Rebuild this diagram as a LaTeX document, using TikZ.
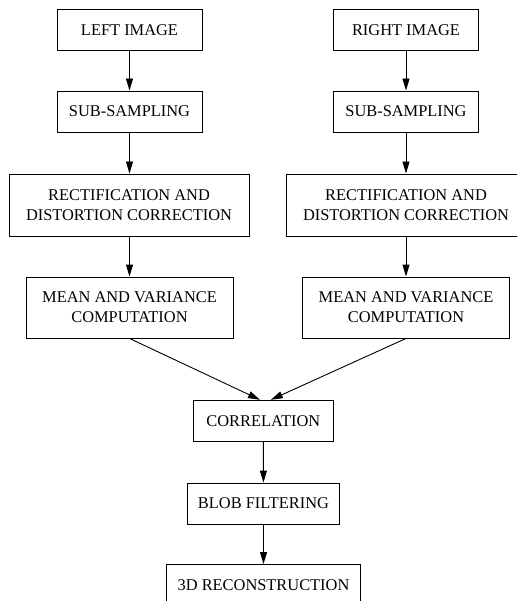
\documentclass[tikz,border=0pt]{standalone}
\usepackage{fontspec}
\setmainfont{Liberation Serif}
\usetikzlibrary{arrows.meta}
\begin{document}
\begin{tikzpicture}[x=1pt,y=-1pt,
  box/.style={draw, line width=0.9pt, inner sep=0pt, align=center,
    font=\fontsize{16.4}{20}\selectfont},
  arr/.style={line width=0.9pt, -{Triangle[length=12pt,width=7pt]}}]
\useasboundingbox (0,0) rectangle (517,601);
\clip (0,0) rectangle (517,601);
\node[box, minimum width=145pt, minimum height=41.5pt] (l1) at (129.5,30) {LEFT IMAGE};
\node[box, minimum width=145pt, minimum height=41pt] (l2) at (129.5,111.5) {SUB-SAMPLING};
\node[box, minimum width=240pt, minimum height=62pt] (l3) at (129,205) {RECTIFICATION AND\\DISTORTION CORRECTION};
\node[box, minimum width=207pt, minimum height=61pt] (l4) at (129.5,307.5) {MEAN AND VARIANCE\\COMPUTATION};
\node[box, minimum width=145pt, minimum height=41.5pt] (r1) at (406,30) {RIGHT IMAGE};
\node[box, minimum width=145pt, minimum height=41pt] (r2) at (406,111.5) {SUB-SAMPLING};
\node[box, minimum width=240pt, minimum height=62pt] (r3) at (406,205) {RECTIFICATION AND\\DISTORTION CORRECTION};
\node[box, minimum width=207pt, minimum height=61pt] (r4) at (406,307.5) {MEAN AND VARIANCE\\COMPUTATION};
\node[box, minimum width=140pt, minimum height=41.5pt] (c) at (263.3,421) {CORRELATION};
\node[box, minimum width=152.7pt, minimum height=41pt] (b) at (263.5,503.5) {BLOB FILTERING};
\node[box, minimum width=194pt, minimum height=41pt] (d) at (263.5,585) {3D RECONSTRUCTION};
\coordinate (cl) at ([xshift=-3.3pt]c.north);
\coordinate (cr) at ([xshift=7.5pt]c.north);
\draw[arr] (l1) -- (l2);
\draw[arr] (l2) -- (l2 |- l3.north);
\draw[arr] (l3.south -| l4) -- (l4);
\draw[arr] (r1) -- (r2);
\draw[arr] (r2) -- (r2 |- r3.north);
\draw[arr] (r3.south -| r4) -- (r4);
\draw[arr] (l4.south) -- (cl);
\draw[arr] (r4.south) -- (cr);
\draw[arr] (c) -- (b);
\draw[arr] (b) -- (d);
\end{tikzpicture}
\end{document}
